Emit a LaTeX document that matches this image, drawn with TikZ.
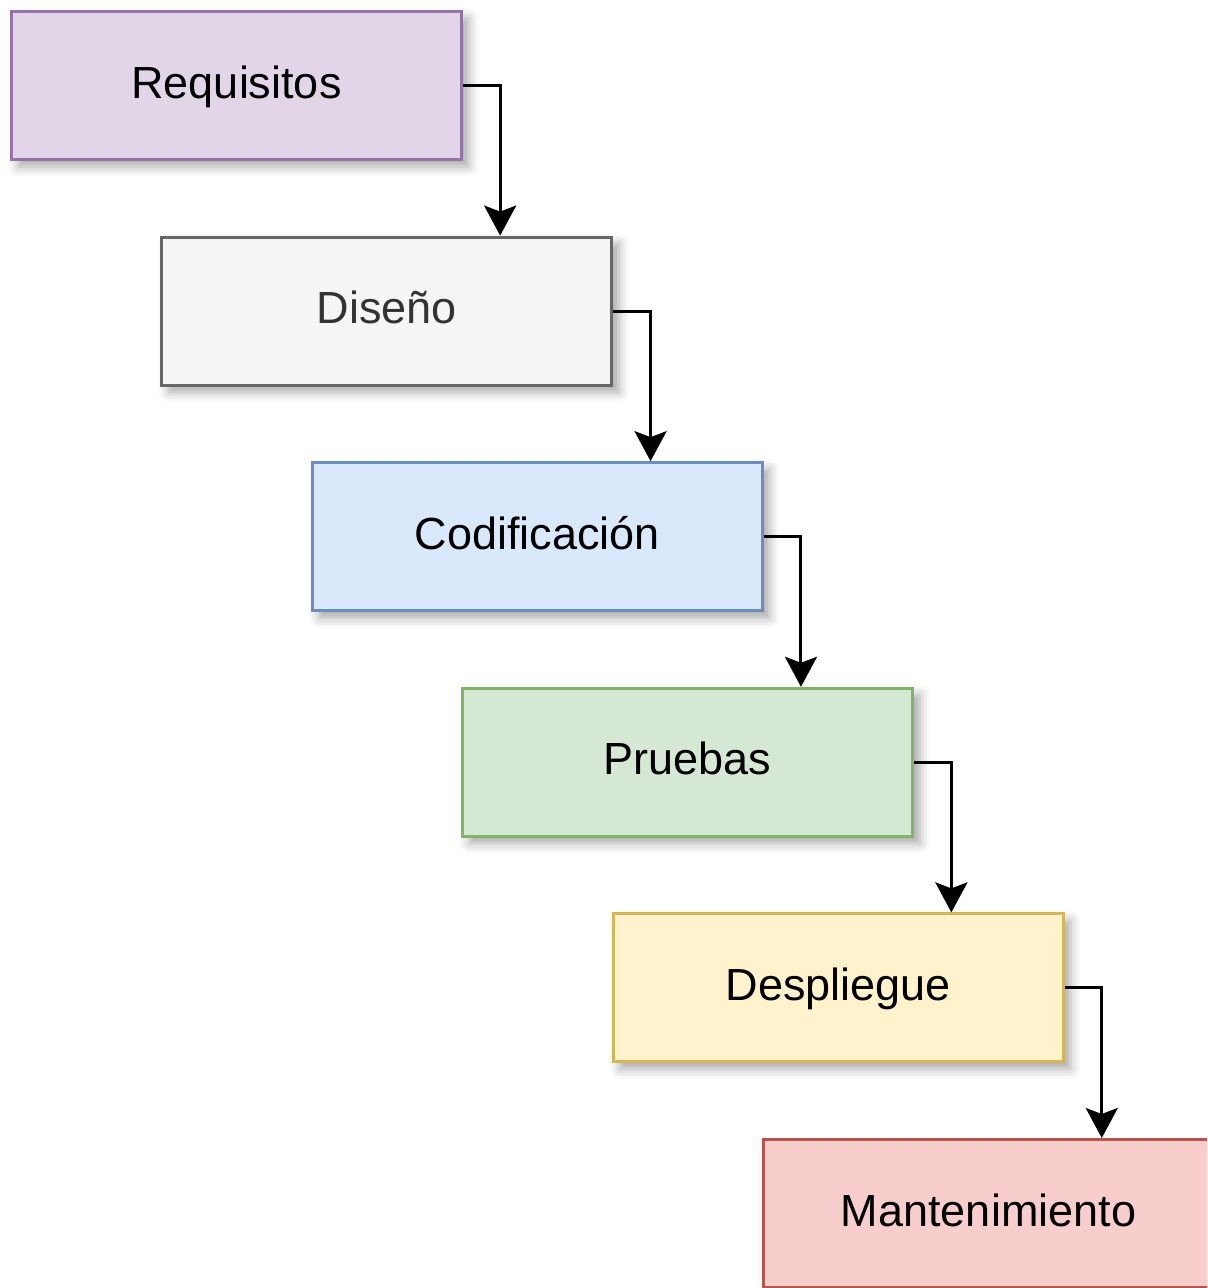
\documentclass[tikz,border=0pt]{standalone}
\usepackage{fontspec}
\setmainfont{Liberation Sans}
\usetikzlibrary{calc,arrows.meta,shadows.blur}

\definecolor{textgrey}{HTML}{333333}

\begin{document}
\begin{tikzpicture}[x=0.5pt,y=-0.5pt,>={Stealth[length=15pt,width=16pt,inset=3pt]}]
	\tikzset{
		box/.style={rectangle,line width=1.5pt,minimum width=225pt,minimum height=74pt,
			font=\fontsize{22.5}{27}\selectfont,text height=17pt,text depth=4.4pt,
			blur shadow={shadow xshift=3.5pt,shadow yshift=-3.5pt,shadow blur radius=5pt,shadow opacity=35}},
		req/.style={fill={rgb,255:red,225;green,213;blue,231},draw={rgb,255:red,150;green,115;blue,166}},
		dis/.style={fill={rgb,255:red,245;green,245;blue,245},draw={rgb,255:red,102;green,102;blue,102},text=textgrey},
		cod/.style={fill={rgb,255:red,218;green,232;blue,252},draw={rgb,255:red,108;green,142;blue,191}},
		pru/.style={fill={rgb,255:red,213;green,232;blue,212},draw={rgb,255:red,130;green,179;blue,102}},
		des/.style={fill={rgb,255:red,255;green,242;blue,204},draw={rgb,255:red,214;green,182;blue,86}},
		man/.style={fill={rgb,255:red,248;green,206;blue,204},draw={rgb,255:red,184;green,84;blue,80}},
		flow/.style={->,line width=1.5pt,black}
	}
	\def\xstep{150.4}
	\def\ystep{225.6}
	\useasboundingbox (0,0) rectangle (1207,1288);
	\clip (0,0) rectangle (1207,1288);
	\foreach \i/\nm/\txt in {0/req/Requisitos,1/dis/Diseño,2/cod/Codificación,3/pru/Pruebas,4/des/Despliegue,5/man/Mantenimiento}{
		\node[box,\nm] (\nm) at ({236.5+\xstep*\i},{85.5+\ystep*\i}) {\txt};
	}
	\foreach \a/\b in {req/dis,dis/cod,cod/pru,pru/des,des/man}{
		\draw[flow] (\a.east) -| ($(\b.north west)!0.75!(\b.north east)$);
	}
\end{tikzpicture}
\end{document}
